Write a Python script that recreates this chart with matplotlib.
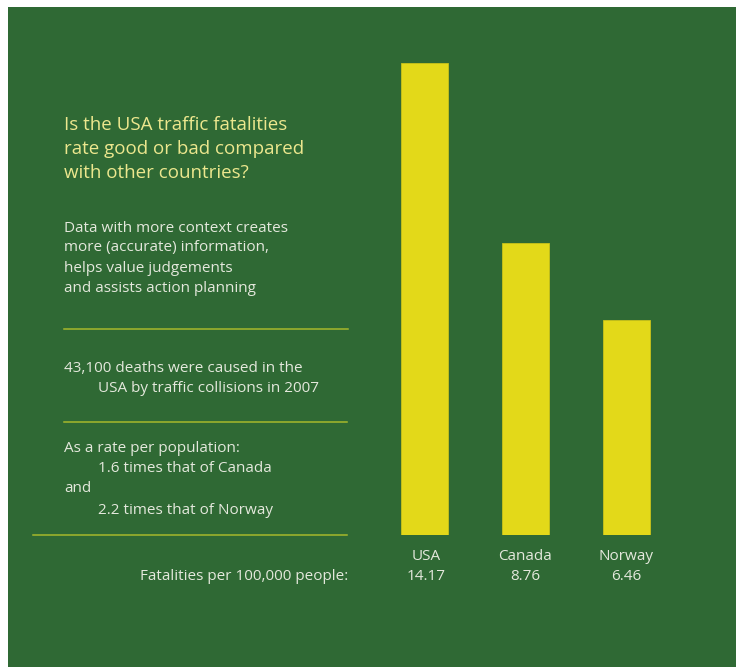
import matplotlib
matplotlib.use('Agg')
from matplotlib import pyplot as plt
from matplotlib.patches import Rectangle

plt.rcParams['font.family'] = ['Open Sans', 'DejaVu Sans']

countries = ['USA', 'Canada', 'Norway']
rates = [14.17, 8.76, 6.46]
rate_labels = ['14.17', '8.76', '6.46']

title_lines = ['Is the USA traffic fatalities',
               'rate good or bad compared',
               'with other countries?']
intro_lines = ['Data with more context creates',
               'more (accurate) information,',
               'helps value judgements',
               'and assists action planning']

W, H = 736, 667
green = '#2f6934'
yellow = '#e3d919'
rule_col = '#a6b82c'
txt_col = '#e4e8dc'
title_col = '#ece78e'

fig = plt.figure(figsize=(W / 100, H / 100), dpi=100)
fig.patch.set_facecolor('white')
# green panel, kept behind the axes
fig.patches.append(Rectangle((8 / W, 0), 1, 1 - 7 / H, transform=fig.transFigure,
                             facecolor=green, edgecolor='none', zorder=-5))


def put(x, y, s, **kw):
    fig.text(x / W, 1 - y / H, s, va='center', **kw)


def rule(x0, x1, y):
    fig.add_artist(plt.Line2D([x0 / W, x1 / W], [1 - y / H, 1 - y / H],
                              color=rule_col, linewidth=1.1))


# bars
ax = fig.add_axes([374 / W, (H - 535) / H, 303 / W, 472 / H])
ax.bar(range(len(rates)), rates, width=0.475, color=yellow,
       edgecolor='#c9c21a', linewidth=0.6)
ax.set_xlim(-0.5, 2.5)
ax.set_ylim(0, rates[0])
ax.axis('off')

for i, y in enumerate([125, 149, 173]):
    put(64, y, title_lines[i], color=title_col, fontsize=13.5)
for i, y in enumerate([228, 248, 268, 289]):
    put(64, y, intro_lines[i], color=txt_col, fontsize=11)

rule(64, 348, 329)
put(64, 369, '43,100 deaths were caused in the', color=txt_col, fontsize=11)
put(98, 389, 'USA by traffic collisions in 2007', color=txt_col, fontsize=11)
rule(64, 347, 422)
put(64, 449, 'As a rate per population:', color=txt_col, fontsize=11)
put(98, 469, '1.6 times that of Canada', color=txt_col, fontsize=11)
put(64, 489, 'and', color=txt_col, fontsize=11)
put(98, 510, '2.2 times that of Norway', color=txt_col, fontsize=11)
rule(33, 347, 535)

put(348, 576, 'Fatalities per 100,000 people:', color=txt_col, fontsize=11, ha='right')
for xc, name, lab in zip([426, 525, 626], countries, rate_labels):
    put(xc, 557, name, color=txt_col, fontsize=11, ha='center')
    put(xc, 577, lab, color=txt_col, fontsize=11, ha='center')

plt.savefig('out.png', dpi=100, facecolor=fig.get_facecolor())
